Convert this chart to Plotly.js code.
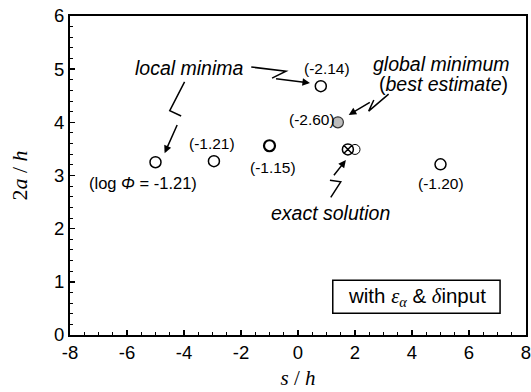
<!DOCTYPE html>
<html>
<head>
<meta charset="utf-8">
<script src="https://cdn.plot.ly/plotly-3.0.1.min.js"></script>
<style>html,body{margin:0;padding:0;background:#fff;}</style>
</head>
<body>
<div id="chart" style="width:531px;height:392px;"></div>
<script>
// Local minima (s/h, 2a/h) and their log Phi values
const localX = [-5.0, -2.95, -1.0, 0.8, 5.0];
const localY = [3.25, 3.27, 3.56, 4.68, 3.21];
const localLogPhi = ['(log <i>Φ</i> = -1.21)', '(-1.21)', '(-1.15)', '(-2.14)', '(-1.20)'];
const localLineW = [1.5, 1.5, 2.2, 1.5, 1.5];
// Global minimum (best estimate)
const globalX = [1.4];
const globalY = [4.0];
const globalLogPhi = ['(-2.60)'];
// Exact solution and nearby estimate
const exactX = [1.75];
const exactY = [3.49];
const nearX = [2.0];
const nearY = [3.49];
// tick values / labels
const xTickVals = [-8, -6, -4, -2, 0, 2, 4, 6, 8];
const xTickText = ['-8', '-6', '-4', '-2', '0', '2', '4', '6', '8'];
const yTickVals = [0, 1, 2, 3, 4, 5, 6];
const yTickText = ['0', '1', '2', '3', '4', '5', '6'];
// label offsets (pixels) relative to points
const localLabelShift = [[-13, -21], [-2, 18], [3, -22], [6, 18], [0, -19]];
const globalLabelShift = [[-26, 3]];

const sansFont = 'Liberation Sans, Arial, sans-serif';
const serifFont = 'Liberation Serif, Times New Roman, serif';

const traces = [
  {x: localX, y: localY, type: 'scatter', mode: 'markers', showlegend: false,
   marker: {symbol: 'circle-open', size: 11, color: '#000', line: {width: localLineW, color: '#000'}}},
  {x: globalX, y: globalY, type: 'scatter', mode: 'markers', showlegend: false,
   marker: {symbol: 'circle', size: 11, color: '#bdbdbd', line: {width: 1.2, color: '#333'}}},
  {x: nearX, y: nearY, type: 'scatter', mode: 'markers', showlegend: false,
   marker: {symbol: 'circle-open', size: 10, color: '#000', line: {width: 1, color: '#000'}}},
  {x: exactX, y: exactY, type: 'scatter', mode: 'markers', showlegend: false,
   marker: {symbol: 'circle-x', size: 11, color: '#fff', line: {width: 1.5, color: '#000'}}}
];

const annotations = [];
localX.forEach((x, i) => {
  annotations.push({x: x, y: localY[i], xref: 'x', yref: 'y', text: localLogPhi[i], showarrow: false,
    xshift: localLabelShift[i][0], yshift: localLabelShift[i][1],
    font: {family: sansFont, size: i === 0 ? 16.5 : 15.5, color: '#000'}});
});
globalX.forEach((x, i) => {
  annotations.push({x: x, y: globalY[i], xref: 'x', yref: 'y', text: globalLogPhi[i], showarrow: false,
    xshift: globalLabelShift[i][0], yshift: globalLabelShift[i][1],
    font: {family: sansFont, size: 15.5, color: '#000'}});
});

const noteFont = {family: sansFont, size: 19.5, color: '#000'};
annotations.push({x: -3.81, y: 5.03, text: '<i>local minima</i>', showarrow: false, font: noteFont});
annotations.push({x: 5.05, y: 5.1, text: '<i>global minimum</i>', showarrow: false, font: noteFont});
annotations.push({x: 5.1, y: 4.73, text: '(<i>best estimate</i>)', showarrow: false, font: noteFont});
annotations.push({x: 1.15, y: 2.29, text: '<i>exact solution</i>', showarrow: false, font: noteFont});
annotations.push({x: 4.16, y: 0.72, showarrow: false, font: {family: sansFont, size: 20.5, color: '#000'},
  text: 'with <span style="font-family:Liberation Serif"><i>ε<sub>α</sub></i></span> & <span style="font-family:Liberation Serif"><i>δ</i></span>input'});

// zig-zag arrows: polyline points, last point is the arrow head
const arrows = [
  [[-3.98, 4.76], [-4.50, 4.22], [-4.10, 4.12], [-4.68, 3.42]],
  [[-1.64, 5.04], [-0.42, 4.96], [-0.91, 4.83], [0.42, 4.74]],
  [[3.18, 4.53], [2.48, 4.21], [2.66, 4.42], [1.78, 4.14]],
  [[1.15, 2.59], [1.50, 2.88], [1.12, 2.91], [1.68, 3.29]]
];
const shapes = [];
arrows.forEach(pts => {
  const path = pts.slice(0, pts.length - 1).map((p, i) => (i === 0 ? 'M' : 'L') + p[0] + ',' + p[1]).join(' ');
  shapes.push({type: 'path', xref: 'x', yref: 'y', path: path, line: {color: '#000', width: 1.5}});
  const head = pts[pts.length - 1], tail = pts[pts.length - 2];
  annotations.push({x: head[0], y: head[1], ax: tail[0], ay: tail[1], xref: 'x', yref: 'y', axref: 'x', ayref: 'y',
    text: ' ', showarrow: true, arrowhead: 2, arrowsize: 1, arrowwidth: 1.5, arrowcolor: '#000', standoff: 0, startstandoff: 0});
});
shapes.push({type: 'rect', xref: 'x', yref: 'y', x0: 1.22, x1: 7.09, y0: 0.41, y1: 1.03, line: {color: '#000', width: 1.5}});

const layout = {
  width: 531, height: 392,
  margin: {l: 70, r: 3, t: 16, b: 57},
  paper_bgcolor: '#fff', plot_bgcolor: '#fff',
  font: {family: sansFont, size: 18, color: '#000'},
  xaxis: {range: [-8, 8], tickmode: 'array', tickvals: xTickVals, ticktext: xTickText,
    showgrid: false, zeroline: false, ticklabeloverflow: 'allow',
    showline: true, linecolor: '#000', linewidth: 2, mirror: true,
    ticks: 'inside', ticklen: 5, tickwidth: 1.5, tickcolor: '#000',
    minor: {dtick: 0.5, tick0: -8, ticks: 'inside', ticklen: 3, tickwidth: 1, tickcolor: '#000', showgrid: false},
    tickfont: {family: sansFont, size: 18.5, color: '#000'},
    title: {text: '<i>s</i> / <i>h</i>', font: {family: serifFont, size: 21, color: '#000'}, standoff: 8}},
  yaxis: {range: [0, 6], tickmode: 'array', tickvals: yTickVals, ticktext: yTickText,
    showgrid: false, zeroline: false, automargin: true,
    showline: true, linecolor: '#000', linewidth: 2, mirror: true,
    ticks: 'inside', ticklen: 5, tickwidth: 1.5, tickcolor: '#000',
    minor: {dtick: 0.2, tick0: 0, ticks: 'inside', ticklen: 3, tickwidth: 1, tickcolor: '#000', showgrid: false},
    tickfont: {family: sansFont, size: 18.5, color: '#000'},
    title: {text: '2<i>a</i> / <i>h</i>', font: {family: serifFont, size: 22, color: '#000'}, standoff: 20}},
  annotations: annotations,
  shapes: shapes
};

Plotly.newPlot('chart', traces, layout, {displayModeBar: false, staticPlot: true});
</script>
</body>
</html>
